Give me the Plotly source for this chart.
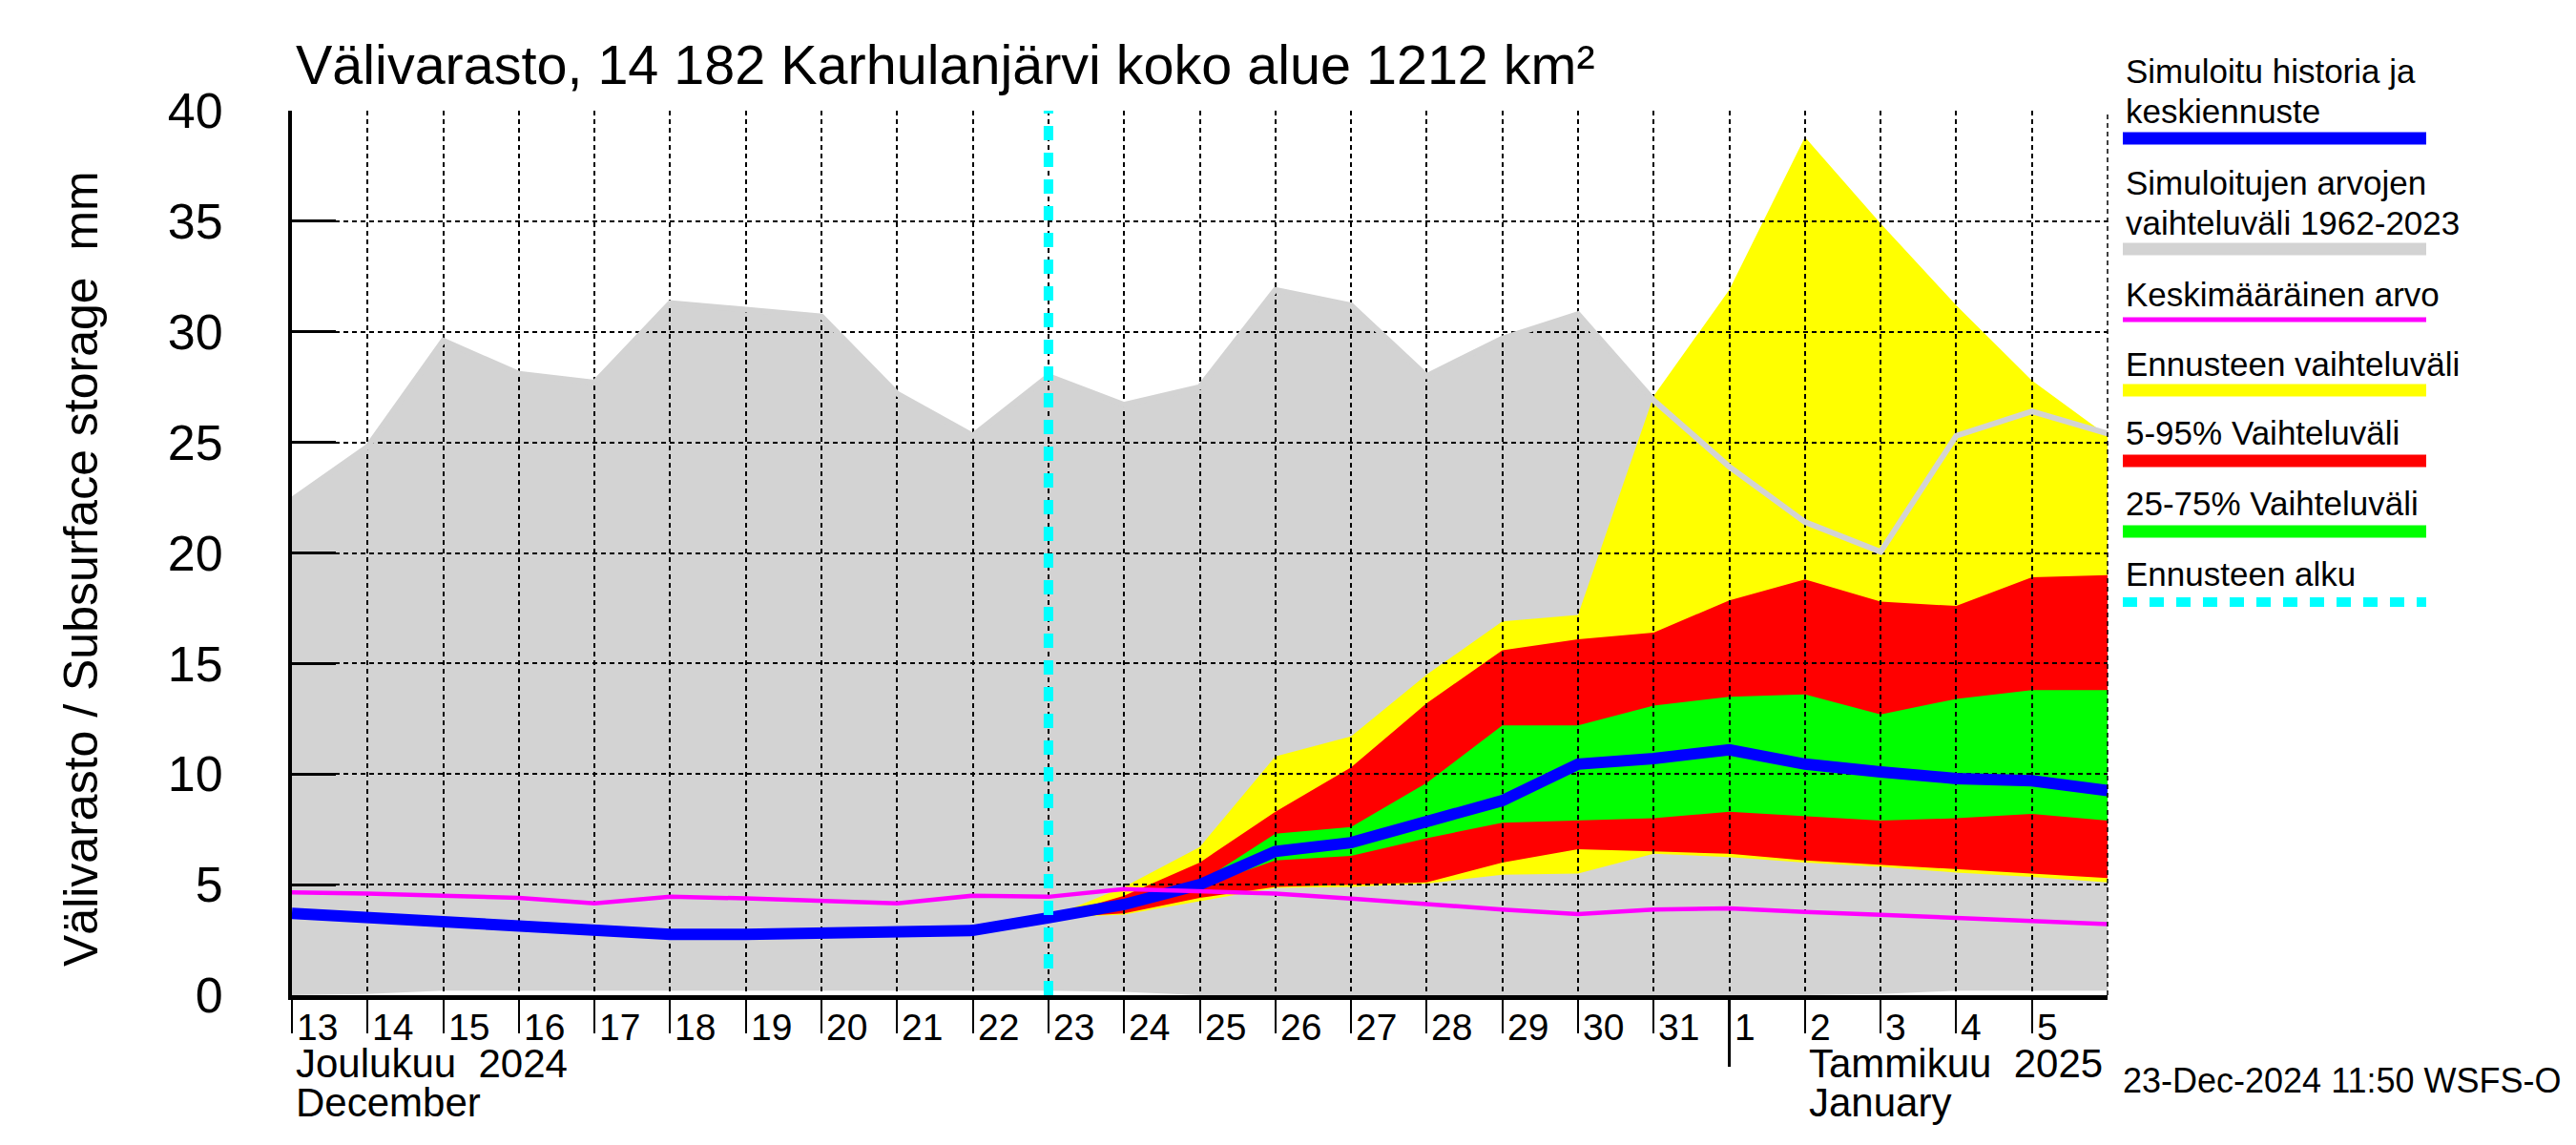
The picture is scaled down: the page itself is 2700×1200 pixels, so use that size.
import plotly.graph_objects as go
import pandas as pd

# ---------------- data ----------------
dates = pd.date_range("2024-12-13", "2025-01-06", freq="D")
fc_dates = pd.date_range("2024-12-23", "2025-01-06", freq="D")
forecast_start = "2024-12-23"

hist_max = [22.4, 24.8, 29.6, 28.1, 27.7, 31.3, 31.0, 30.7, 27.2, 25.3, 28.0, 26.7,
            27.5, 31.9, 31.2, 28.0, 29.7, 30.8, 26.9, 23.9, 21.4, 20.05, 25.3, 26.4, 25.4]
hist_min = [0.0, 0.05, 0.2, 0.2, 0.2, 0.2, 0.2, 0.2, 0.2, 0.2, 0.2, 0.15, 0.0,
            0.0, 0.0, 0.0, 0.0, 0.0, 0.0, 0.0, 0.0, 0.05, 0.2, 0.2, 0.2]
mean_val = [4.65, 4.6, 4.5, 4.4, 4.15, 4.45, 4.38, 4.25, 4.15, 4.5, 4.45, 4.8,
            4.7, 4.6, 4.37, 4.1, 3.87, 3.67, 3.87, 3.93, 3.76, 3.64, 3.48, 3.36, 3.21]
sim_median = [3.7, 3.5, 3.3, 3.1, 2.9, 2.75, 2.75, 2.78, 2.8, 2.93, 3.5, 4.1,
              5.0, 6.5, 6.9, 7.8, 8.8, 10.45, 10.7, 11.1, 10.45, 10.1, 9.8, 9.7, 9.25]

yellow_hi = [3.5, 4.9, 6.7, 10.8, 11.7, 14.5, 16.9, 17.2, 27.1, 31.9, 38.8, 34.9, 31.2, 27.8, 25.3]
yellow_lo = [3.5, 3.65, 4.25, 4.85, 4.9, 5.05, 5.45, 5.5, 6.4, 6.25, 6.0, 5.8, 5.55, 5.35, 5.1]
red_hi = [3.5, 4.5, 6.0, 8.3, 10.3, 13.2, 15.6, 16.1, 16.4, 17.85, 18.8, 17.8, 17.6, 18.9, 19.0]
red_lo = [3.5, 3.7, 4.4, 4.9, 5.0, 5.1, 6.0, 6.6, 6.5, 6.4, 6.1, 5.9, 5.7, 5.5, 5.3]
green_hi = [3.5, 4.2, 5.1, 7.3, 7.6, 9.6, 12.2, 12.2, 13.1, 13.5, 13.6, 12.7, 13.4, 13.8, 13.8]
green_lo = [3.5, 4.0, 4.9, 6.1, 6.3, 7.1, 7.8, 7.9, 8.0, 8.3, 8.1, 7.9, 8.0, 8.2, 7.9]

tick_dates = dates[:-1]
day_labels = [str(d.day) for d in tick_dates]
y_ticks = [0, 5, 10, 15, 20, 25, 30, 35, 40]

title_text = "Välivarasto, 14 182 Karhulanjärvi koko alue 1212 km²"
y_title = "Välivarasto / Subsurface storage  mm"
legend_items = [
    (["Simuloitu historia ja", "keskiennuste"], "#0000ff", 13, None),
    (["Simuloitujen arvojen", "vaihteluväli 1962-2023"], "#d3d3d3", 13, None),
    (["Keskimääräinen arvo"], "#ff00ff", 5, None),
    (["Ennusteen vaihteluväli"], "#ffff00", 13, None),
    (["5-95% Vaihteluväli"], "#ff0000", 13, None),
    (["25-75% Vaihteluväli"], "#00ff00", 13, None),
    (["Ennusteen alku"], "#00ffff", 10, "15px,13px"),
]
legend_text_y = [[66, 108], [183, 225], [300], [373], [446], [519], [593]]
legend_bar_y = [137, 253, 327, 401, 475, 549, 623]

# ---------------- geometry ----------------
W, H = 2700, 1200
L, R, T, B = 298, 2201, 108, 1035
FONT = "Liberation Sans, Arial, Helvetica, sans-serif"


def px(p):
    return (p - L) / (R - L)


def py(p):
    return (B - p) / (B - T)


fig = go.Figure()

# ---- filled bands (subplot 1, below grid) ----
def band(x, lo, hi, color):
    fig.add_trace(go.Scatter(x=x, y=lo, mode="lines", line=dict(width=0, color=color),
                             hoverinfo="skip", showlegend=False, xaxis="x", yaxis="y"))
    fig.add_trace(go.Scatter(x=x, y=hi, mode="lines", line=dict(width=0, color=color),
                             fill="tonexty", fillcolor=color, hoverinfo="skip",
                             showlegend=False, xaxis="x", yaxis="y"))


band(dates, hist_min, hist_max, "#d3d3d3")
band(fc_dates, yellow_lo, yellow_hi, "#ffff00")
band(fc_dates, red_lo, red_hi, "#ff0000")
band(fc_dates, green_lo, green_hi, "#00ff00")

# ---- lines (subplot 2, above grid) ----
fig.add_trace(go.Scatter(x=dates, y=hist_max, mode="lines", line=dict(color="#d3d3d3", width=6),
                         showlegend=False, xaxis="x2", yaxis="y2"))
fig.add_trace(go.Scatter(x=dates, y=sim_median, mode="lines", line=dict(color="#0000ff", width=12),
                         showlegend=False, xaxis="x2", yaxis="y2"))
fig.add_trace(go.Scatter(x=dates, y=mean_val, mode="lines", line=dict(color="#ff00ff", width=4.5),
                         showlegend=False, xaxis="x2", yaxis="y2"))
fig.add_trace(go.Scatter(x=[forecast_start, forecast_start], y=[0, 40], mode="lines",
                         line=dict(color="#00ffff", width=10, dash="15px,13px"),
                         showlegend=False, xaxis="x2", yaxis="y2"))

xrange = [dates[0], dates[-1]]
common_x = dict(range=xrange, domain=[0, 1], type="date")
fig.update_layout(
    width=W, height=H,
    margin=dict(l=L, r=W - R, t=T, b=H - B, pad=0),
    paper_bgcolor="white", plot_bgcolor="rgba(0,0,0,0)",
    showlegend=False,
    font=dict(family=FONT, color="black"),
    xaxis=dict(**common_x, visible=False, fixedrange=True),
    yaxis=dict(range=[0, 40], domain=[0, 1], visible=False),
    xaxis2=dict(**common_x, anchor="y2", showgrid=True, gridcolor="black", gridwidth=1.5,
                griddash="5px,4px", tickvals=list(tick_dates), showticklabels=False,
                ticks="outside", ticklen=35, tickwidth=2, tickcolor="black",
                showline=True, linecolor="black", linewidth=5, zeroline=False),
    yaxis2=dict(range=[0, 40], domain=[0, 1], anchor="x2", showgrid=True, gridcolor="black",
                gridwidth=1.5, griddash="5px,4px", tickvals=y_ticks,
                ticks="inside", ticklen=46, tickwidth=3, tickcolor="black",
                showline=True, linecolor="black", linewidth=4, zeroline=False,
                tickfont=dict(size=52, family=FONT), ticklabelstandoff=58),
)

ann = []
# day labels
for d, lab in zip(tick_dates, day_labels):
    ann.append(dict(x=d, y=py(1068), xref="x2", yref="paper", text=lab, showarrow=False,
                    xanchor="left", yanchor="middle", xshift=3, font=dict(size=39)))
# month labels
ann.append(dict(x=px(300), y=py(1106), xref="paper", yref="paper", text="Joulukuu  2024",
                showarrow=False, xanchor="left", yanchor="middle", font=dict(size=42)))
ann.append(dict(x=px(300), y=py(1147), xref="paper", yref="paper", text="December",
                showarrow=False, xanchor="left", yanchor="middle", font=dict(size=42)))
ann.append(dict(x="2025-01-02", y=py(1106), xref="x2", yref="paper", text="Tammikuu  2025",
                showarrow=False, xanchor="left", yanchor="middle", xshift=2, font=dict(size=42)))
ann.append(dict(x="2025-01-02", y=py(1147), xref="x2", yref="paper", text="January",
                showarrow=False, xanchor="left", yanchor="middle", xshift=2, font=dict(size=42)))
# timestamp
ann.append(dict(x=px(2215), y=py(1124), xref="paper", yref="paper",
                text="23-Dec-2024 11:50 WSFS-O", showarrow=False, xanchor="left",
                yanchor="middle", font=dict(size=36)))
# title
ann.append(dict(x=px(300), y=py(60), xref="paper", yref="paper", text=title_text,
                showarrow=False, xanchor="left", yanchor="middle", font=dict(size=57.5)))
# y title
ann.append(dict(x=px(77), y=py(588), xref="paper", yref="paper", text=y_title,
                showarrow=False, xanchor="center", yanchor="middle", textangle=-90,
                font=dict(size=50)))
# legend texts
for (lines, color, lw, dash), ys in zip(legend_items, legend_text_y):
    for t, yy in zip(lines, ys):
        ann.append(dict(x=px(2218), y=py(yy), xref="paper", yref="paper", text=t,
                        showarrow=False, xanchor="left", yanchor="middle",
                        font=dict(size=35)))
fig.update_layout(annotations=ann)

shapes = []
for (lines, color, lw, dash), yb in zip(legend_items, legend_bar_y):
    line = dict(color=color, width=lw)
    if dash:
        line["dash"] = dash
    shapes.append(dict(type="line", xref="paper", yref="paper", x0=px(2217), x1=px(2535),
                       y0=py(yb), y1=py(yb), line=line))
# month separator tick
shapes.append(dict(type="line", xref="x2", yref="paper", x0="2025-01-01", x1="2025-01-01",
                   y0=0, y1=py(1110), line=dict(color="black", width=3)))
# right edge dashed grid line
shapes.append(dict(type="line", xref="paper", yref="paper", x0=1, x1=1, y0=0, y1=1,
                   line=dict(color="black", width=1.5, dash="5px,4px")))
fig.update_layout(shapes=shapes)

fig.write_html("out.html")
